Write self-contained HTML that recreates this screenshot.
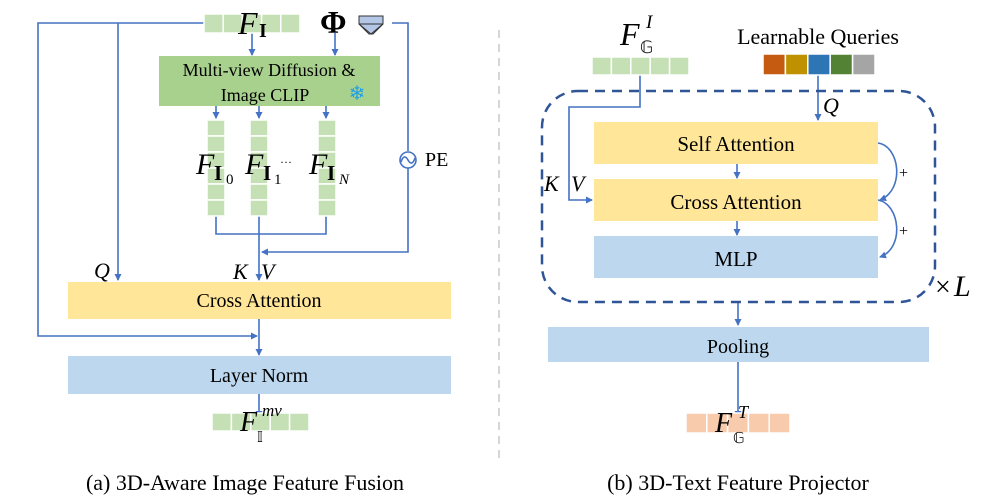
<!DOCTYPE html>
<html><head><meta charset="utf-8"><style>
html,body{margin:0;padding:0;background:#fff;}
svg{display:block;font-family:"Liberation Serif",serif;}
</style></head><body>
<svg width="996" height="501" viewBox="0 0 996 501" xmlns="http://www.w3.org/2000/svg">
<defs>
<marker id="a" markerWidth="8" markerHeight="8" refX="6" refY="4" orient="auto" markerUnits="userSpaceOnUse">
<path d="M0,0.5 L7,4 L0,7.5 Z" fill="#4472c4"/></marker>
</defs>
<g fill="none" stroke="#4472c4" stroke-width="1.6">
<polyline points="204,23 38,23 38,336 257,336" marker-end="url(#a)"/>
<polyline points="118,23 118,280" marker-end="url(#a)"/>
<polyline points="392,23 408,23 408,151"/>
<circle cx="408" cy="160" r="8"/>
<path d="M401,162 Q404,153 408,160 Q412,167 415,158"/>
<polyline points="408,168 408,252 262,252" marker-end="url(#a)"/>
<line x1="252" y1="33" x2="252" y2="55" marker-end="url(#a)"/>
<line x1="335" y1="33" x2="335" y2="55" marker-end="url(#a)"/>
<line x1="216" y1="106" x2="216" y2="118" marker-end="url(#a)"/>
<line x1="259" y1="106" x2="259" y2="118" marker-end="url(#a)"/>
<line x1="326" y1="106" x2="326" y2="118" marker-end="url(#a)"/>
<polyline points="216,216 216,234 326,234 326,216"/>
<line x1="259" y1="216" x2="259" y2="280" marker-end="url(#a)"/>
<line x1="259" y1="319" x2="259" y2="355" marker-end="url(#a)"/>
<line x1="259" y1="394" x2="259" y2="417" marker-end="url(#a)"/>
<polyline points="640,74 640,107 569,107 569,200 592,200" marker-end="url(#a)"/>
<line x1="818" y1="74" x2="818" y2="120" marker-end="url(#a)"/>
<line x1="737" y1="164" x2="737" y2="178" marker-end="url(#a)"/>
<line x1="737" y1="221" x2="737" y2="235" marker-end="url(#a)"/>
<path d="M878,143 C900,146 905,190 880,200" marker-end="url(#a)"/>
<path d="M878,200 C900,204 905,248 880,257" marker-end="url(#a)"/>
<line x1="738" y1="302" x2="738" y2="325" marker-end="url(#a)"/>
<line x1="738" y1="362" x2="738" y2="417" marker-end="url(#a)"/>
</g>
<line x1="499" y1="30" x2="499" y2="462" stroke="#c8c8c8" stroke-width="1.5" stroke-dasharray="8,6"/>
<g fill="#c5e0b4" stroke="#fff" stroke-width="1.5">
<rect x="204" y="14" width="19.2" height="19"/><rect x="223.2" y="14" width="19.2" height="19"/><rect x="242.4" y="14" width="19.2" height="19"/><rect x="261.6" y="14" width="19.2" height="19"/><rect x="280.8" y="14" width="19.2" height="19"/>
</g>
<text x="238" y="34" font-size="32" font-style="italic">F</text><text x="259" y="37" font-size="20" font-weight="bold">I</text>
<text x="320" y="33" font-size="32" font-weight="bold">Φ</text>
<path d="M359,16 L383,16 L383,24 L373,34 L369,34 L359,24 Z" fill="#b4c7e7" stroke="#333" stroke-width="1"/>
<path d="M359,24 L383,24 M359,24 L371,34 L383,24" fill="none" stroke="#333" stroke-width="1"/>
<rect x="159" y="56" width="221" height="50" fill="#a9d18e"/>
<text x="269" y="76" font-size="18" text-anchor="middle">Multi-view Diffusion &amp;</text>
<text x="265" y="101" font-size="18" text-anchor="middle">Image CLIP</text>
<text x="357" y="100" font-size="20" fill="#1ea0e8" text-anchor="middle">❄</text>
<g fill="#c5e0b4" stroke="#fff" stroke-width="1.5">
<rect x="207" y="120" width="18" height="16"/><rect x="207" y="136" width="18" height="16"/><rect x="207" y="152" width="18" height="16"/><rect x="207" y="168" width="18" height="16"/><rect x="207" y="184" width="18" height="16"/><rect x="207" y="200" width="18" height="16"/>
<rect x="250" y="120" width="18" height="16"/><rect x="250" y="136" width="18" height="16"/><rect x="250" y="152" width="18" height="16"/><rect x="250" y="168" width="18" height="16"/><rect x="250" y="184" width="18" height="16"/><rect x="250" y="200" width="18" height="16"/>
<rect x="318" y="120" width="18" height="16"/><rect x="318" y="136" width="18" height="16"/><rect x="318" y="152" width="18" height="16"/><rect x="318" y="168" width="18" height="16"/><rect x="318" y="184" width="18" height="16"/><rect x="318" y="200" width="18" height="16"/>
</g>
<text x="196" y="174" font-size="30" font-style="italic">F</text><text x="214" y="180" font-size="21" font-weight="bold">I</text><text x="226" y="184" font-size="15">0</text>
<text x="245" y="174" font-size="30" font-style="italic">F</text><text x="263" y="180" font-size="21" font-weight="bold">I</text><text x="274" y="184" font-size="15">1</text><text x="280" y="166" font-size="12">···</text>
<text x="309" y="174" font-size="30" font-style="italic">F</text><text x="327" y="180" font-size="21" font-weight="bold">I</text><text x="339" y="184" font-size="15" font-style="italic">N</text>
<text x="425" y="166" font-size="20">PE</text>
<text x="94" y="278" font-size="22" font-style="italic">Q</text>
<text x="233" y="279" font-size="22" font-style="italic">K</text><text x="261" y="279" font-size="22" font-style="italic">V</text>
<rect x="68" y="282" width="383" height="37" fill="#ffe699"/>
<text x="259" y="307" font-size="20" text-anchor="middle">Cross Attention</text>
<rect x="68" y="356" width="383" height="38" fill="#bdd7ee"/>
<text x="259" y="382" font-size="20" text-anchor="middle">Layer Norm</text>
<g fill="#c5e0b4" stroke="#fff" stroke-width="1.5">
<rect x="212" y="413" width="19.4" height="18"/><rect x="231.4" y="413" width="19.4" height="18"/><rect x="250.8" y="413" width="19.4" height="18"/><rect x="270.2" y="413" width="19.4" height="18"/><rect x="289.6" y="413" width="19.4" height="18"/>
</g>
<text x="240" y="431" font-size="28" font-style="italic">F</text><text x="257" y="442" font-size="15">𝕀</text><text x="262" y="416" font-size="17" font-style="italic">mv</text>
<text x="245" y="490" font-size="22" text-anchor="middle">(a) 3D-Aware Image Feature Fusion</text>
<text x="620" y="45" font-size="32" font-style="italic">F</text><text x="640" y="53" font-size="17">𝔾</text><text x="646" y="28" font-size="19" font-style="italic">I</text>
<g fill="#c5e0b4" stroke="#fff" stroke-width="1.5">
<rect x="592" y="57" width="19.4" height="18"/><rect x="611.4" y="57" width="19.4" height="18"/><rect x="630.8" y="57" width="19.4" height="18"/><rect x="650.2" y="57" width="19.4" height="18"/><rect x="669.6" y="57" width="19.4" height="18"/>
</g>
<text x="818" y="44" font-size="22" text-anchor="middle">Learnable Queries</text>
<g stroke="#fff" stroke-width="1.5">
<rect x="763" y="54" width="22.4" height="21" fill="#c55a11"/><rect x="785.4" y="54" width="22.4" height="21" fill="#bf9000"/><rect x="807.8" y="54" width="22.4" height="21" fill="#2e75b6"/><rect x="830.2" y="54" width="22.4" height="21" fill="#548235"/><rect x="852.6" y="54" width="22.4" height="21" fill="#a5a5a5"/>
</g>
<rect x="542" y="91" width="393" height="211" rx="36" fill="none" stroke="#2f5597" stroke-width="2.5" stroke-dasharray="10,7"/>
<text x="823" y="113" font-size="22" font-style="italic">Q</text>
<rect x="594" y="122" width="284" height="42" fill="#ffe699"/>
<text x="736" y="151" font-size="21" text-anchor="middle">Self Attention</text>
<rect x="594" y="179" width="284" height="42" fill="#ffe699"/>
<text x="736" y="209" font-size="21" text-anchor="middle">Cross Attention</text>
<rect x="594" y="236" width="284" height="42" fill="#bdd7ee"/>
<text x="736" y="266" font-size="21" text-anchor="middle">MLP</text>
<text x="544" y="191" font-size="22" font-style="italic">K</text><text x="571" y="191" font-size="22" font-style="italic">V</text>
<text x="899" y="178" font-size="16">+</text><text x="899" y="236" font-size="16">+</text>
<text x="935" y="296" font-size="28">×</text><text x="954" y="296" font-size="30" font-style="italic">L</text>
<rect x="548" y="327" width="381" height="35" fill="#bdd7ee"/>
<text x="738" y="353" font-size="20" text-anchor="middle">Pooling</text>
<g fill="#f8cbad" stroke="#fff" stroke-width="1.5">
<rect x="686" y="413" width="20.8" height="20"/><rect x="706.8" y="413" width="20.8" height="20"/><rect x="727.6" y="413" width="20.8" height="20"/><rect x="748.4" y="413" width="20.8" height="20"/><rect x="769.2" y="413" width="20.8" height="20"/>
</g>
<text x="715" y="432" font-size="28" font-style="italic">F</text><text x="733" y="443" font-size="15">𝔾</text><text x="738" y="418" font-size="18" font-style="italic">T</text>
<text x="738" y="490" font-size="22" text-anchor="middle">(b) 3D-Text Feature Projector</text>
</svg>
</body></html>
